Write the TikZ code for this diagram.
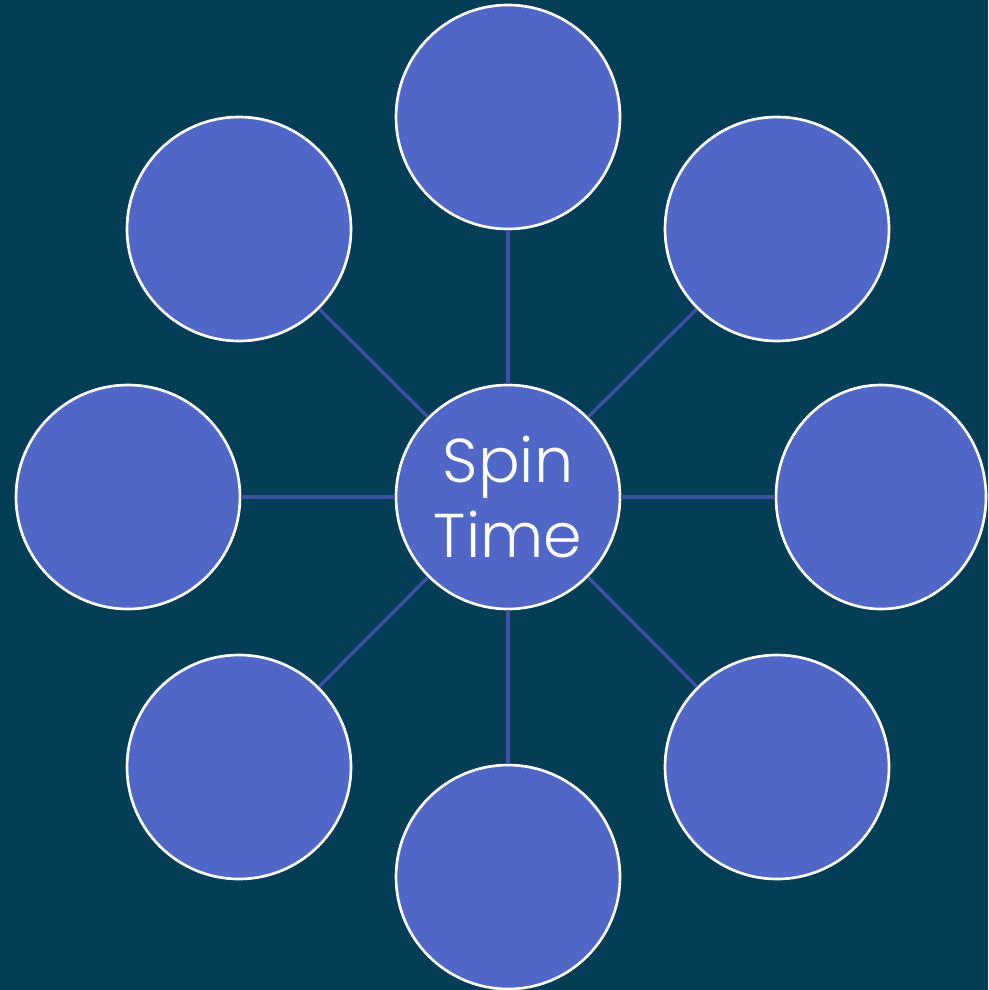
\documentclass[tikz,border=0pt]{standalone}
\usepackage{fontspec}
\setmainfont{Poppins Light}
\usepackage{tikz}
\usetikzlibrary{positioning, shapes.geometric}
\definecolor{slatebg}{HTML}{033D56}
\definecolor{bubblefill}{HTML}{5067C7}
\definecolor{spokeblue}{HTML}{3F51A6}
\tikzset{
    bubble/.style = {circle, draw=white, fill=bubblefill, line width=1.9pt, minimum size=5.6cm, inner sep=0pt},
    spoke/.style = {draw=spokeblue, line width=2.4pt},
}

\begin{document}
\begin{tikzpicture}[
        node distance=9.5cm and 9.5cm,
        on grid,
        hubtext/.style={
            text=white,
            align=center,
            font=\fontsize{44}{53}\selectfont
        }
    ]
        \fill [slatebg] (0,0) rectangle (24.7,-24.75);
        \useasboundingbox (0,0) rectangle (24.7,-24.75);

        \node [bubble, hubtext] (hub) at (12.7,-12.425) {Spin\\Time};
        \node [bubble, above=of hub] (top) {};
        \node [bubble, below=of hub] (bottom) {};
        \node [bubble, left=of hub] (left) {};
        \node [bubble, ellipse, minimum width=5.25cm, minimum height=5.6cm, right=9.325cm of hub] (right) {};
        \node [bubble, above right=6.7cm and 6.725cm of hub] (tr) {};
        \node [bubble, above left=6.7cm and 6.725cm of hub] (tl) {};
        \node [bubble, below right=6.75cm and 6.725cm of hub] (br) {};
        \node [bubble, below left=6.75cm and 6.725cm of hub] (bl) {};

        \foreach \n in {top,tr,right,br,bottom,bl,left,tl}
            \draw [spoke] (hub) -- (\n);
    \end{tikzpicture}
\end{document}
